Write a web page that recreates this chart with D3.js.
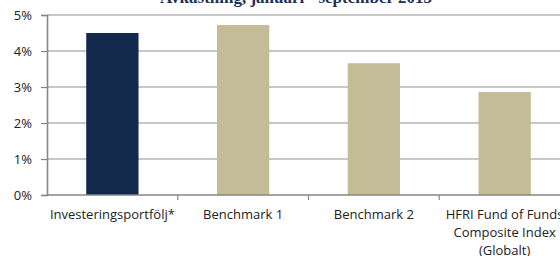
<!DOCTYPE html>
<html>
<head>
<meta charset="utf-8">
<script src="https://cdn.jsdelivr.net/npm/d3@7"></script>
<style>
  body { margin: 0; background: #fff; }
  text { font-family: "Open Sans", sans-serif; }
</style>
</head>
<body>
<svg width="560" height="256"></svg>
<script>
// data (percent)
var categories = ["Investeringsportfölj*", "Benchmark 1", "Benchmark 2", "HFRI Fund of Funds Composite Index (Globalt)"];
var values = [4.5, 4.72, 3.66, 2.86];
var barColors = ["#13294b", "#c4bc96", "#c4bc96", "#c4bc96"];
var yTicks = [0, 1, 2, 3, 4, 5];
var title = "Avkastning, januari - september 2013";

var svg = d3.select("svg"),
    width = +svg.attr("width"),
    height = +svg.attr("height");

var plotLeft = 47, plotTop = 15, plotBottom = 195, plotRight = 570;

var x = d3.scaleBand()
    .domain(categories)
    .range([plotLeft, plotRight])
    .paddingInner(0.6)
    .paddingOuter(0.3);

var y = d3.scaleLinear()
    .domain([0, 5])
    .range([plotBottom, plotTop]);

// title, mostly cut off at the top edge
svg.append("text")
    .attr("x", 296)
    .attr("y", 2.5)
    .attr("text-anchor", "middle")
    .style("font-family", "'Liberation Serif', serif")
    .style("font-weight", "bold")
    .style("font-size", "17px")
    .attr("fill", "#1c3158")
    .text(title);

// gridlines
svg.append("g")
    .selectAll("line")
    .data(yTicks.filter(function(d) { return d > 0; }))
    .enter().append("line")
    .attr("x1", plotLeft)
    .attr("x2", width)
    .attr("y1", function(d) { return y(d); })
    .attr("y2", function(d) { return y(d); })
    .attr("stroke", "#b4b4b4")
    .attr("stroke-width", 1.6);

// bars
svg.append("g")
    .selectAll("rect")
    .data(values)
    .enter().append("rect")
    .attr("x", function(d, i) { return x(categories[i]); })
    .attr("width", x.bandwidth())
    .attr("y", function(d) { return y(d); })
    .attr("height", function(d) { return y(0) - y(d); })
    .attr("fill", function(d, i) { return barColors[i]; });

// y axis
var yAxis = svg.append("g")
    .attr("transform", "translate(" + plotLeft + ",0)")
    .call(d3.axisLeft(y).tickValues(yTicks).tickSize(6).tickPadding(9)
        .tickFormat(function(d) { return d + "%"; }));
yAxis.select(".domain").attr("stroke", "#868686").attr("stroke-width", 1.6);
yAxis.selectAll(".tick line").attr("stroke", "#868686").attr("stroke-width", 1.2);
yAxis.selectAll("text")
    .style("font-size", "13px")
    .attr("fill", "#222");

// x axis: baseline, ticks at the band boundaries, wrapped labels
svg.append("line")
    .attr("x1", plotLeft)
    .attr("x2", width)
    .attr("y1", y(0))
    .attr("y2", y(0))
    .attr("stroke", "#868686")
    .attr("stroke-width", 1.6);

var step = x.step();
var bandStart = x(categories[0]) - x.paddingOuter() * step;
svg.append("g")
    .selectAll("line")
    .data(d3.range(1, categories.length))
    .enter().append("line")
    .attr("x1", function(d) { return bandStart + d * step; })
    .attr("x2", function(d) { return bandStart + d * step; })
    .attr("y1", y(0))
    .attr("y2", y(0) + 5)
    .attr("stroke", "#868686")
    .attr("stroke-width", 1.2);

var labels = svg.append("g")
    .selectAll("text")
    .data(categories)
    .enter().append("text")
    .attr("x", function(d) { return x(d) + x.bandwidth() / 2; })
    .attr("y", 219)
    .attr("text-anchor", "middle")
    .style("font-size", "13px")
    .attr("fill", "#222");

labels.each(function(d) {
    var el = d3.select(this),
        words = d.split(" "),
        line = [],
        tspan = el.append("tspan").attr("x", el.attr("x")).attr("dy", 0);
    words.forEach(function(w) {
        line.push(w);
        tspan.text(line.join(" "));
        if (tspan.node().getComputedTextLength() > step - 6 && line.length > 1) {
            line.pop();
            tspan.text(line.join(" "));
            line = [w];
            tspan = el.append("tspan").attr("x", el.attr("x")).attr("dy", 18).text(w);
        }
    });
});
</script>
</body>
</html>
